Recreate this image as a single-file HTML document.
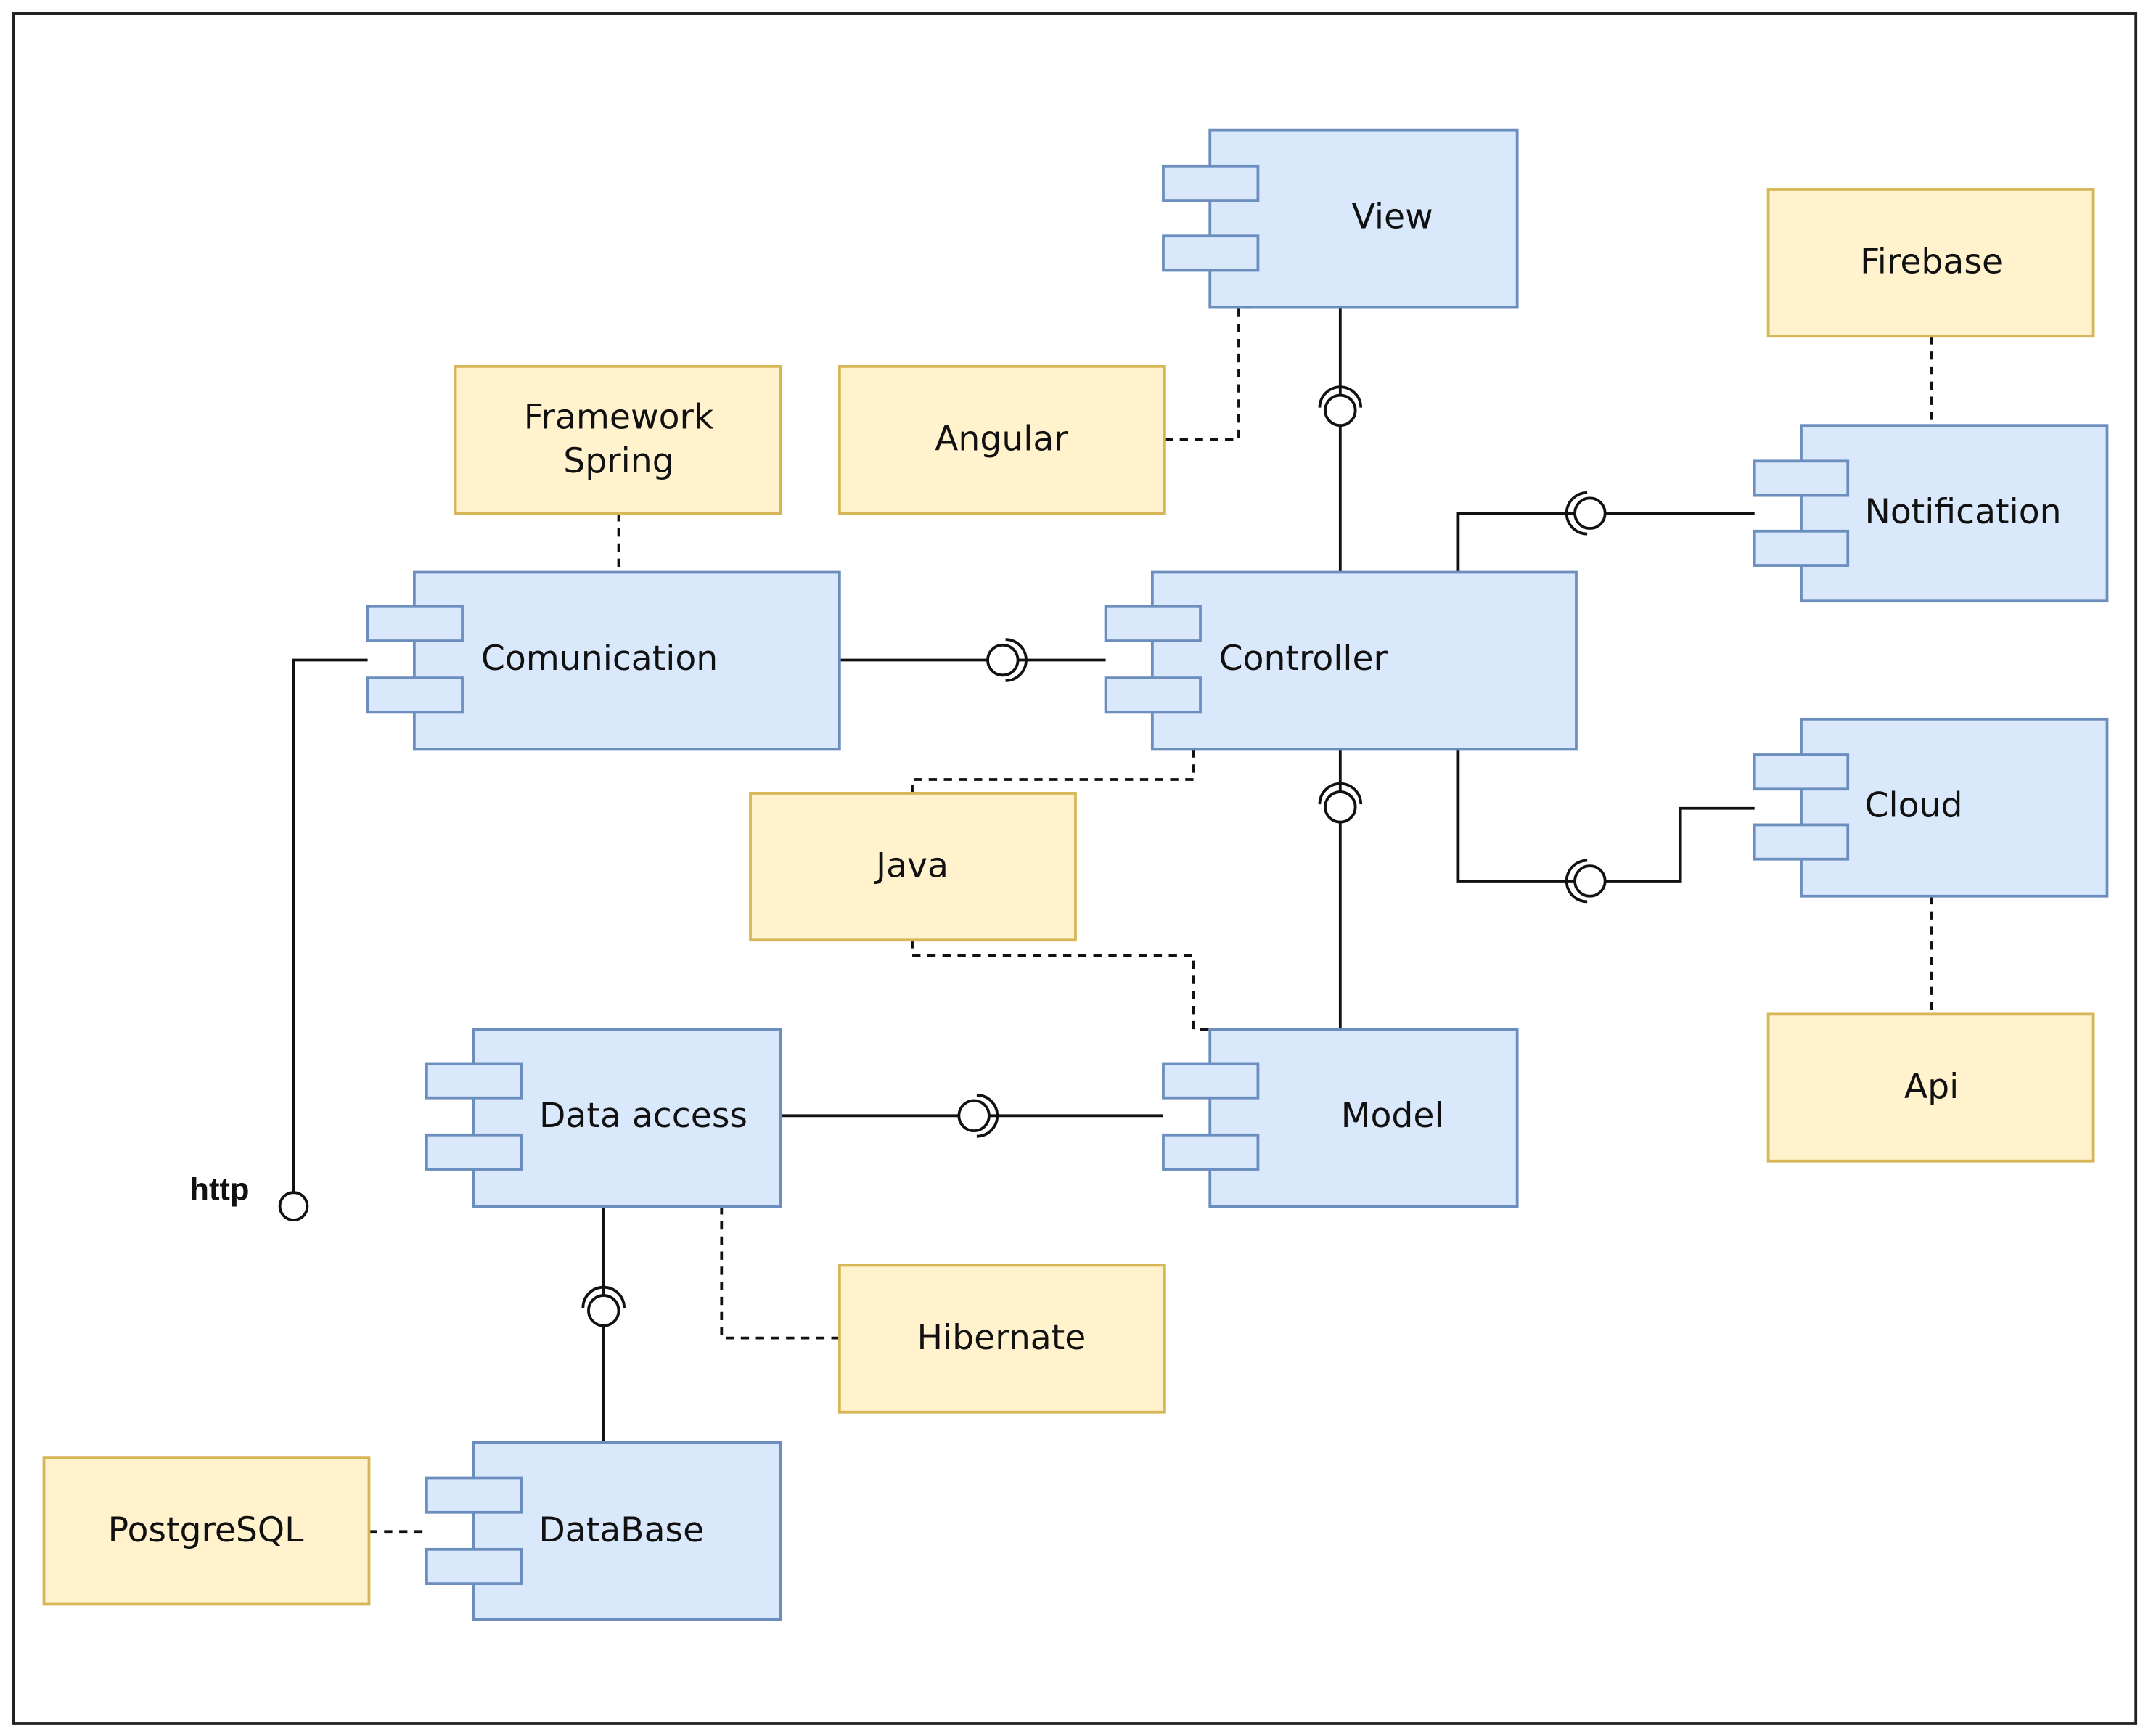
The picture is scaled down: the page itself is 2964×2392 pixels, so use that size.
<!DOCTYPE html>
<html><head><meta charset="utf-8"><style>
html,body{margin:0;padding:0;background:#fff;}
svg{display:block;}
text{font-family:"DejaVu Sans","Liberation Sans",sans-serif;font-size:25px;fill:#111;text-anchor:middle;dominant-baseline:central;}
.b{fill:#dae8fc;stroke:#6c8ebf;stroke-width:2;}
.y{fill:#fff2cc;stroke:#d6b656;stroke-width:2;}
.l{fill:none;stroke:#111;stroke-width:2;}
.d{fill:none;stroke:#111;stroke-width:2;stroke-dasharray:6 5;}
.ball{fill:#fff;stroke:#111;stroke-width:2;}
</style></head><body>
<svg width="2964" height="2392" viewBox="0 0 1568 1265" preserveAspectRatio="none" xmlns="http://www.w3.org/2000/svg">
<rect x="0" y="0" width="1568" height="1265" fill="#fff"/>
<rect x="10" y="10" width="1547" height="1246" fill="none" stroke="#222" stroke-width="2"/>

<path class="l" d="M977 224V417"/>
<path class="d" d="M849 320H903V224H912"/>
<path class="d" d="M1408 245V310"/>
<path class="l" d="M1063 417V374H1279"/>
<path class="d" d="M451 374V417"/>
<path class="l" d="M612 481H806"/>
<path class="l" d="M268 481H214V870"/>
<path class="d" d="M870 546V568H665V578"/>
<path class="l" d="M977 546V750"/>
<path class="l" d="M1063 546V642H1225V589H1279"/>
<path class="d" d="M1408 653V739"/>
<path class="d" d="M665 685V696H870V750H912"/>
<path class="l" d="M569 813H848"/>
<path class="l" d="M440 879V1051"/>
<path class="d" d="M526 879V975H612"/>
<path class="d" d="M269 1116H311"/>

<g>
<circle class="ball" cx="977" cy="299" r="11"/><path class="l" d="M962 297A15 15 0 0 1 992 297"/>
<circle class="ball" cx="1159" cy="374" r="11"/><path class="l" d="M1157 359A15 15 0 0 0 1157 389"/>
<circle class="ball" cx="731" cy="481" r="11"/><path class="l" d="M733 466A15 15 0 0 1 733 496"/>
<circle class="ball" cx="977" cy="588" r="11"/><path class="l" d="M962 586A15 15 0 0 1 992 586"/>
<circle class="ball" cx="1159" cy="642" r="11"/><path class="l" d="M1157 627A15 15 0 0 0 1157 657"/>
<circle class="ball" cx="710" cy="813" r="11"/><path class="l" d="M712 798A15 15 0 0 1 712 828"/>
<circle class="ball" cx="440" cy="955" r="11"/><path class="l" d="M425 953A15 15 0 0 1 455 953"/>
<circle class="ball" cx="214" cy="879" r="10"/>
</g>
<text x="160" y="867" style="font-family:'Liberation Sans',sans-serif;font-weight:bold;font-size:23px">http</text>

<rect class="y" x="1289" y="138" width="237" height="107"/><text x="1408" y="191">Firebase</text>
<rect class="y" x="332" y="267" width="237" height="107"/><text x="451" y="304">Framework</text><text x="451" y="336">Spring</text>
<rect class="y" x="612" y="267" width="237" height="107"/><text x="730" y="320">Angular</text>
<rect class="y" x="547" y="578" width="237" height="107"/><text x="665" y="631">Java</text>
<rect class="y" x="1289" y="739" width="237" height="107"/><text x="1408" y="792">Api</text>
<rect class="y" x="612" y="922" width="237" height="107"/><text x="730" y="975">Hibernate</text>
<rect class="y" x="32" y="1062" width="237" height="107"/><text x="150" y="1115">PostgreSQL</text>

<rect class="b" x="882" y="95" width="224" height="129"/><rect class="b" x="848" y="121" width="69" height="25"/><rect class="b" x="848" y="172" width="69" height="25"/><text x="1015" y="158">View</text>
<rect class="b" x="1313" y="310" width="223" height="128"/><rect class="b" x="1279" y="336" width="68" height="25"/><rect class="b" x="1279" y="387" width="68" height="25"/><text x="1431" y="373">Notification</text>
<rect class="b" x="302" y="417" width="310" height="129"/><rect class="b" x="268" y="442" width="69" height="25"/><rect class="b" x="268" y="494" width="69" height="25"/><text x="437" y="480">Comunication</text>
<rect class="b" x="840" y="417" width="309" height="129"/><rect class="b" x="806" y="442" width="69" height="25"/><rect class="b" x="806" y="494" width="69" height="25"/><text x="950" y="480">Controller</text>
<rect class="b" x="1313" y="524" width="223" height="129"/><rect class="b" x="1279" y="550" width="68" height="25"/><rect class="b" x="1279" y="601" width="68" height="25"/><text x="1395" y="587">Cloud</text>
<rect class="b" x="345" y="750" width="224" height="129"/><rect class="b" x="311" y="775" width="69" height="25"/><rect class="b" x="311" y="827" width="69" height="25"/><text x="469" y="813">Data access</text>
<rect class="b" x="882" y="750" width="224" height="129"/><rect class="b" x="848" y="775" width="69" height="25"/><rect class="b" x="848" y="827" width="69" height="25"/><text x="1015" y="813">Model</text>
<rect class="b" x="345" y="1051" width="224" height="129"/><rect class="b" x="311" y="1077" width="69" height="25"/><rect class="b" x="311" y="1129" width="69" height="25"/><text x="453" y="1115">DataBase</text>
</svg>
</body></html>
